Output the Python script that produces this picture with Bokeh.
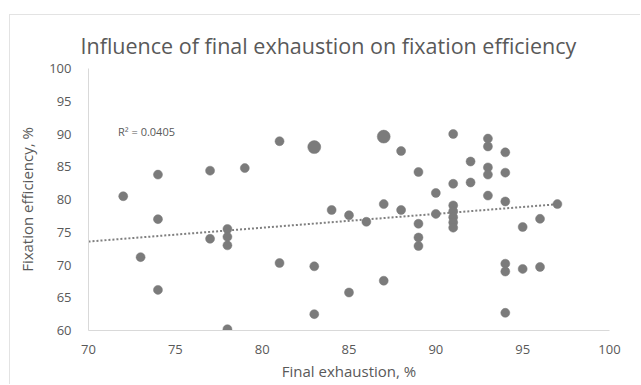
from bokeh.plotting import figure
from bokeh.models import ColumnDataSource, Label, FixedTicker, Range1d
from bokeh.embed import file_html
from bokeh.resources import INLINE

# Final exhaustion, %
exhaustion = [72, 73, 74, 74, 74, 77, 77, 78, 78, 78, 78, 79, 81, 81, 83, 83, 83, 84, 85, 85,
              86, 87, 87, 87, 88, 88, 89, 89, 89, 89, 90, 90, 91, 91, 91, 91, 91, 91, 91,
              92, 92, 93, 93, 93, 93, 93, 94, 94, 94, 94, 94, 94, 95, 95, 96, 96, 97]
# Fixation efficiency, %
efficiency = [80.5, 71.2, 83.8, 77.0, 66.2, 84.4, 74.0, 75.5, 74.3, 73.0, 60.2, 84.8, 88.9, 70.3,
              88.0, 69.8, 62.5, 78.4, 77.6, 65.8, 76.6, 89.6, 79.3, 67.6, 87.4, 78.4, 84.2, 76.3,
              74.2, 72.9, 81.0, 77.8, 90.0, 82.4, 79.1, 78.2, 77.3, 76.5, 75.7, 85.8, 82.6, 89.3,
              88.1, 84.9, 83.8, 80.6, 87.2, 84.1, 79.7, 70.2, 69.0, 62.7, 75.8, 69.4, 77.05, 69.7,
              79.3]
# marker kind (1 = normal, 2 = enlarged marker)
marker_kind = [1] * len(exhaustion)
marker_kind[14] = 2
marker_kind[21] = 2

# linear trendline as shown on the chart: y = slope * x + intercept
trend_slope = 0.211
trend_intercept = 58.81
trend_x = [70, 97]

x_ticks = [70, 75, 80, 85, 90, 95, 100]
y_ticks = [60, 65, 70, 75, 80, 85, 90, 95, 100]
r2_text = "R\u00b2 = 0.0405"

FONT = "Open Sans"
TXT = "#595959"
AX = "#d9d9d9"
PT = "#7b7b7b"

sizes = [9 if k == 1 else 13 for k in marker_kind]
src = ColumnDataSource(dict(x=exhaustion, y=efficiency, s=sizes))

p = figure(width=631, height=370, output_backend="svg", toolbar_location=None,
           x_range=Range1d(70, 100), y_range=Range1d(60, 100),
           min_border_left=78, min_border_right=32, min_border_top=53, min_border_bottom=55)
p.styles = {"margin-left": "9px", "margin-top": "14px",
            "border-left": "1px solid #e3e3e3", "border-top": "1px solid #e3e3e3"}
p.outline_line_color = None
p.xgrid.visible = False
p.ygrid.visible = False

p.title.text = "Influence of final exhaustion on fixation efficiency"
p.title.align = "left"
p.title.offset = -8
p.title.standoff = 17
p.title.text_font = FONT
p.title.text_font_style = "normal"
p.title.text_font_size = "21.5px"
p.title.text_color = TXT

for ax, ticks, lab in ((p.xaxis[0], x_ticks, "Final exhaustion, %"),
                       (p.yaxis[0], y_ticks, "Fixation efficiency, %")):
    ax.ticker = FixedTicker(ticks=ticks)
    ax.axis_label = lab
    ax.axis_label_text_font = FONT
    ax.axis_label_text_font_style = "normal"
    ax.axis_label_text_font_size = "15px"
    ax.axis_label_text_color = TXT
    ax.major_label_text_font = FONT
    ax.major_label_text_font_size = "13px"
    ax.major_label_text_color = TXT
    ax.axis_line_color = AX
    ax.major_tick_line_color = None
    ax.minor_tick_line_color = None

p.xaxis.major_label_standoff = 8
p.yaxis.major_label_standoff = 11
p.xaxis.axis_label_standoff = 4
p.yaxis.axis_label_standoff = 9

ty = [trend_slope * v + trend_intercept for v in trend_x]
p.line(trend_x, ty, line_color="#7f7f7f", line_width=2, line_dash="2 2")

p.scatter("x", "y", size="s", source=src, fill_color=PT, line_color=PT, line_width=0.5)

p.add_layout(Label(x=71.7, y=90.4, text=r2_text, text_font=FONT, text_font_size="11px",
                   text_color=TXT, text_baseline="middle", text_align="left"))

open("out.html", "w").write(file_html(p, INLINE))
